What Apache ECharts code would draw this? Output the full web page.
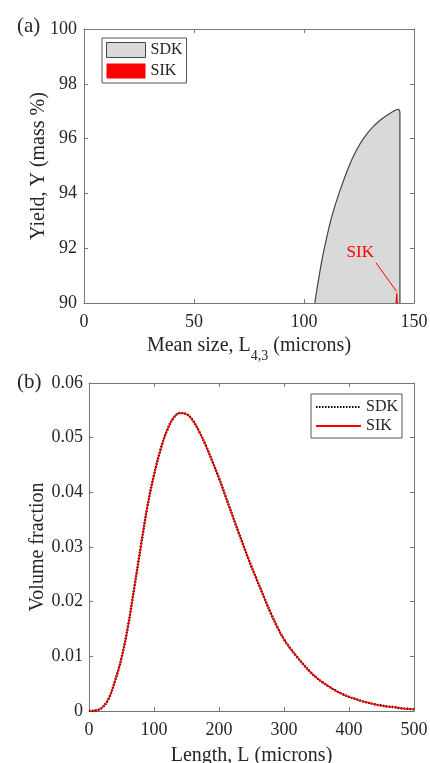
<!DOCTYPE html>
<html>
<head>
<meta charset="utf-8">
<script src="https://cdn.jsdelivr.net/npm/echarts@6/dist/echarts.min.js"></script>
<style>
  html, body { margin: 0; padding: 0; background: #fff; }
  #chart { width: 430px; height: 763px; }
</style>
</head>
<body>
<div id="chart"></div>
<script>
// (a) attainable region: yield against mean size L4,3
const sdkMeanSize = [104.9, 106.2, 108.0, 109.9, 112.4, 115.9, 120.5, 124.0, 127.0, 131.0, 135.0, 139.0, 142.0, 143.0, 143.6, 143.6];
const sdkYield = [90.0, 90.66, 91.5, 92.24, 93.09, 94.0, 95.0, 95.6, 96.0, 96.4, 96.7, 96.92, 97.05, 97.07, 96.95, 90.0];
const sikMeanSize = [141.8, 142.0, 142.2, 142.4, 142.4];
const sikYield = [90.0, 90.2, 90.35, 90.3, 90.0];
// annotation in data units
const sikLabelAt = [125.6, 91.84];
const sikArrowFrom = [132.7, 91.47];
const sikArrowTo = [142.1, 90.42];

// (b) volume fraction against length L
const lengthL = [0, 10, 20, 30, 40, 50, 60, 70, 80, 90, 100, 110, 120, 130, 140, 150, 160, 170, 180, 190,
  200, 210, 220, 230, 240, 250, 260, 270, 280, 290, 300, 310, 320, 330, 340, 350, 360, 370, 380, 390,
  400, 410, 420, 430, 440, 450, 460, 470, 480, 490, 500];
const sdkVolume = [0, 0.0001, 0.0006, 0.0022, 0.0055, 0.0097, 0.0155, 0.0228, 0.0303, 0.0375, 0.0432, 0.0478,
  0.0513, 0.0536, 0.0545, 0.0543, 0.0531, 0.0510, 0.0485, 0.0456, 0.0426, 0.0393, 0.0360, 0.0327, 0.0295,
  0.0264, 0.0235, 0.0206, 0.0178, 0.0153, 0.0131, 0.0114, 0.0099, 0.0085, 0.0072, 0.0061, 0.0052, 0.0044,
  0.0037, 0.0031, 0.0026, 0.0022, 0.0018, 0.0015, 0.0012, 0.0010, 0.0008, 0.0007, 0.0005, 0.0004, 0.0003];
const sikVolume = [0, 0.0001, 0.0006, 0.0022, 0.0055, 0.0097, 0.0155, 0.0228, 0.0303, 0.0375, 0.0432, 0.0478,
  0.0513, 0.0536, 0.0545, 0.0543, 0.0531, 0.0510, 0.0485, 0.0456, 0.0426, 0.0393, 0.0360, 0.0327, 0.0295,
  0.0264, 0.0235, 0.0206, 0.0178, 0.0153, 0.0131, 0.0114, 0.0099, 0.0085, 0.0072, 0.0061, 0.0052, 0.0044,
  0.0037, 0.0031, 0.0026, 0.0022, 0.0018, 0.0015, 0.0012, 0.0010, 0.0008, 0.0007, 0.0005, 0.0004, 0.0003];

const font = 'Liberation Serif';
const ink = '#262626';
const boxGray = '#777';

const pairs = (xs, ys) => xs.map((x, i) => [x, ys[i]]);

function axis(extra, mirror) {
  return Object.assign({
    type: 'value',
    nameMoveOverlap: false,
    axisLine: { show: true, onZero: false, lineStyle: { color: boxGray, width: 1 } },
    axisTick: { show: true, inside: true, length: 4, lineStyle: { color: boxGray } },
    splitLine: { show: false },
    axisLabel: { show: !mirror, color: ink, fontFamily: font, fontSize: 18 },
    nameTextStyle: { color: ink, fontFamily: font, fontSize: 20 }
  }, extra);
}

const chart = echarts.init(document.getElementById('chart'));

chart.setOption({
  animation: false,
  backgroundColor: '#fff',
  textStyle: { fontFamily: font },
  title: [
    { text: '(a)', left: 12, top: 11, textStyle: { fontFamily: font, fontSize: 21, fontWeight: 'normal', color: ink } },
    { text: '(b)', left: 12, top: 367, textStyle: { fontFamily: font, fontSize: 21, fontWeight: 'normal', color: ink } }
  ],
  grid: [
    { left: 84, top: 29, width: 330, height: 274, outerBoundsMode: 'none' },
    { left: 89, top: 383, width: 325, height: 328, outerBoundsMode: 'none' }
  ],
  xAxis: [
    axis({
      gridIndex: 0, min: 0, max: 150, interval: 50, position: 'bottom',
      axisLabel: { color: ink, fontFamily: font, fontSize: 18, margin: 10 },
      name: '{n|Mean size, L}{s|4,3}{n| (microns)}', nameLocation: 'middle', nameGap: 33,
      nameTextStyle: {
        rich: {
          n: { fontFamily: font, fontSize: 20, color: ink, lineHeight: 22, verticalAlign: 'top' },
          s: { fontFamily: font, fontSize: 14, color: ink, lineHeight: 14, verticalAlign: 'top', padding: [13, 0, 0, 0] }
        }
      }
    }),
    axis({ gridIndex: 0, min: 0, max: 150, interval: 50, position: 'top' }, true),
    axis({
      gridIndex: 1, min: 0, max: 500, interval: 100, position: 'bottom',
      axisLabel: { color: ink, fontFamily: font, fontSize: 18, margin: 10 },
      name: 'Length, L (microns)', nameLocation: 'middle', nameGap: 35
    }),
    axis({ gridIndex: 1, min: 0, max: 500, interval: 100, position: 'top' }, true)
  ],
  yAxis: [
    axis({
      gridIndex: 0, min: 90, max: 100, interval: 2, position: 'left',
      axisLabel: { color: ink, fontFamily: font, fontSize: 18, margin: 7 },
      name: 'Yield, Y (mass %)', nameLocation: 'middle', nameGap: 35
    }),
    axis({ gridIndex: 0, min: 90, max: 100, interval: 2, position: 'right' }, true),
    axis({
      gridIndex: 1, min: 0, max: 0.06, interval: 0.01, position: 'left',
      axisLabel: { color: ink, fontFamily: font, fontSize: 18, margin: 6 },
      name: 'Volume fraction', nameLocation: 'middle', nameGap: 41
    }),
    axis({ gridIndex: 1, min: 0, max: 0.06, interval: 0.01, position: 'right' }, true)
  ],
  legend: [
    {
      orient: 'vertical', left: 102, top: 38,
      padding: [4, 4, 4, 4], itemGap: 5, itemWidth: 39, itemHeight: 15,
      borderColor: '#555', borderWidth: 1, backgroundColor: '#fff',
      textStyle: { fontFamily: font, fontSize: 16, color: ink },
      data: [
        { name: 'SDK', icon: 'rect', itemStyle: { color: '#d9d9d9', borderColor: '#444', borderWidth: 1 } },
        { name: 'SIK', icon: 'rect', itemStyle: { color: '#ff0000', borderWidth: 0 } }
      ]
    },
    {
      orient: 'vertical', left: 311, top: 394,
      padding: [5, 4, 4, 4], itemGap: 3, itemWidth: 45, itemHeight: 12,
      borderColor: '#555', borderWidth: 1, backgroundColor: '#fff',
      textStyle: { fontFamily: font, fontSize: 16, color: ink },
      itemStyle: { color: 'rgba(0,0,0,0)', borderWidth: 0 },
      formatter: name => name.split(' ')[0],
      data: ['SDK (b)', 'SIK (b)']
    }
  ],
  series: [
    {
      name: 'SDK', type: 'line', xAxisIndex: 0, yAxisIndex: 0,
      data: pairs(sdkMeanSize, sdkYield),
      symbol: 'none', silent: true, smooth: 0.3,
      lineStyle: { color: '#444', width: 1.2 },
      areaStyle: { color: '#d9d9d9', opacity: 1, origin: 'start' },
      z: 2
    },
    {
      name: 'SIK', type: 'line', xAxisIndex: 0, yAxisIndex: 0,
      data: pairs(sikMeanSize, sikYield),
      symbol: 'none', silent: true,
      lineStyle: { color: '#ff0000', width: 1 },
      areaStyle: { color: '#ff0000', opacity: 1, origin: 'start' },
      z: 3,
      markLine: {
        silent: true, symbol: ['none', 'arrow'], symbolSize: [0, 7],
        lineStyle: { color: '#ff0000', width: 1, type: 'solid' },
        label: { show: false },
        data: [[{ coord: sikArrowFrom }, { coord: sikArrowTo }]]
      },
      markPoint: {
        silent: true, symbol: 'rect', symbolSize: 1,
        itemStyle: { color: 'rgba(0,0,0,0)' },
        label: { show: true, position: 'inside', formatter: 'SIK', color: '#ff0000', fontFamily: font, fontSize: 17 },
        data: [{ coord: sikLabelAt }]
      }
    },
    {
      name: 'SDK (b)', type: 'line', xAxisIndex: 2, yAxisIndex: 2,
      data: pairs(lengthL, sdkVolume),
      symbol: 'none', smooth: 0.4, silent: true,
      lineStyle: { color: '#000', width: 2.4, type: [1.5, 1.5] },
      z: 2
    },
    {
      name: 'SIK (b)', type: 'line', xAxisIndex: 2, yAxisIndex: 2,
      data: pairs(lengthL, sikVolume),
      symbol: 'none', smooth: 0.4, silent: true,
      lineStyle: { color: '#ff0000', width: 1.4 },
      z: 3
    }
  ]
});
</script>
</body>
</html>
